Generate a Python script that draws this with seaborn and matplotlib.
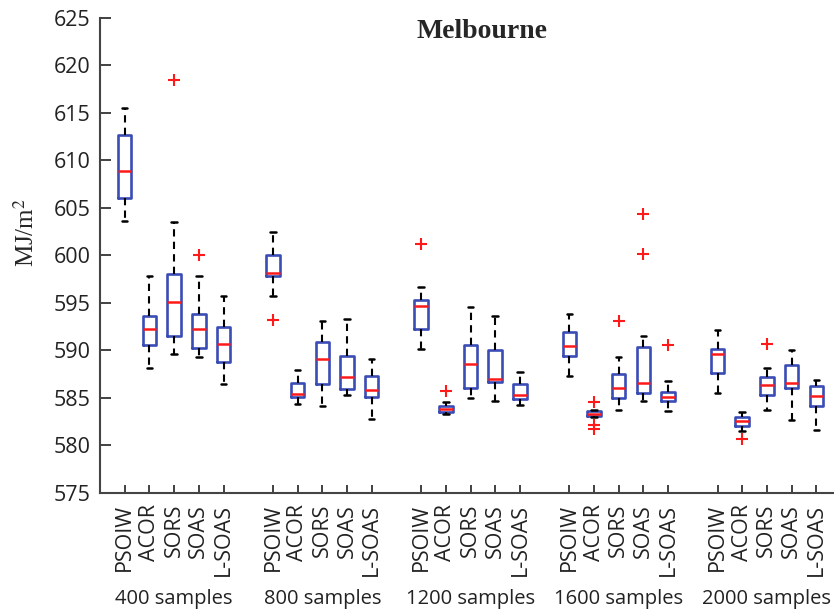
import matplotlib
matplotlib.use("Agg")
import matplotlib.pyplot as plt
import matplotlib.transforms as mtransforms
import seaborn as sns

# ---------------- data ----------------
groups = ["400 samples", "800 samples", "1200 samples", "1600 samples", "2000 samples"]
methods = ["PSOIW", "ACOR", "SORS", "SOAS", "L-SOAS"]

# per box, ordered group by group, method by method
whislo = [603.6, 588.2, 589.6, 589.35, 586.45,
          595.7, 584.4, 584.2, 585.35, 582.8,
          590.2, 583.3, 585.0, 584.7, 584.3,
          587.35, 582.95, 583.7, 584.65, 583.6,
          585.55, 581.55, 583.75, 582.7, 581.6]
q1 = [606.0, 590.55, 591.5, 590.3, 588.8,
      597.8, 585.15, 586.5, 585.9, 585.1,
      592.2, 583.55, 586.05, 586.7, 584.9,
      589.45, 583.05, 585.0, 585.5, 584.7,
      587.6, 582.1, 585.35, 586.0, 584.1]
med = [608.85, 592.2, 595.1, 592.2, 590.65,
       598.1, 585.4, 589.1, 587.2, 585.85,
       594.7, 583.85, 588.55, 587.0, 585.35,
       590.5, 583.3, 586.05, 586.6, 585.15,
       589.65, 582.55, 586.4, 586.55, 585.2]
q3 = [612.7, 593.6, 598.0, 593.8, 592.45,
      600.0, 586.6, 590.9, 589.4, 587.35,
      595.3, 584.2, 590.6, 590.0, 586.45,
      591.9, 583.6, 587.5, 590.35, 585.6,
      590.2, 582.95, 587.25, 588.5, 586.3]
whishi = [615.5, 597.8, 603.55, 597.8, 595.7,
          602.5, 587.95, 593.1, 593.35, 589.1,
          596.65, 584.6, 594.6, 593.6, 587.7,
          593.85, 583.75, 589.3, 591.55, 586.75,
          592.1, 583.55, 588.2, 590.0, 586.9]
fliers = [[], [], [618.45], [600.0], [],
          [593.2], [], [], [], [],
          [601.2], [585.7], [], [], [],
          [], [584.55, 582.2, 581.7], [593.1], [604.3, 600.15], [590.55],
          [], [580.7], [590.7], [], []]

# ---------------- style ----------------
sns.set_style("ticks")
plt.rcParams["font.family"] = ["Open Sans", "DejaVu Sans"]
plt.rcParams["mathtext.fontset"] = "stix"

fig = plt.figure(figsize=(8.34, 6.13), dpi=100)
ax = fig.add_axes([100 / 834, 1 - 493 / 613, 1 - 100 / 834, (493 - 17.7) / 613])

n_m = len(methods)
positions = [g * (n_m + 1) + m + 1 for g in range(len(groups)) for m in range(n_m)]
stats = []
for i in range(len(positions)):
    stats.append(dict(whislo=whislo[i], q1=q1[i], med=med[i], q3=q3[i],
                      whishi=whishi[i], fliers=fliers[i]))

box_col = "#3a4db5"
ax.bxp(stats, positions=positions, widths=0.55, showfliers=True,
       boxprops=dict(color=box_col, linewidth=1.9),
       medianprops=dict(color="#ff1a1a", linewidth=1.8),
       whiskerprops=dict(color="black", linewidth=1.5, linestyle=(0, (3.5, 2.5))),
       capprops=dict(color="black", linewidth=1.8),
       capwidths=0.22,
       flierprops=dict(marker="+", markeredgecolor="#ff1a1a", markersize=9,
                       markeredgewidth=1.5, linestyle="none"))

ax.set_xlim(0, (834 - 100) / 24.7)
ax.set_ylim(575, 625)
ax.set_yticks(range(575, 626, 5))
ax.set_xticks(positions)
ax.set_xticklabels(methods * len(groups), rotation=90, fontsize=15.5, color="#222222")
ax.tick_params(axis="y", labelsize=15.5, labelcolor="#222222")
ax.tick_params(axis="both", direction="in", color="#333333", width=1.3)
ax.tick_params(axis="y", length=8, pad=7)
ax.tick_params(axis="x", length=6, pad=8)

for side in ["top", "right"]:
    ax.spines[side].set_visible(False)
for side in ["left", "bottom"]:
    ax.spines[side].set_color("#444444")
    ax.spines[side].set_linewidth(1.5)

trans = mtransforms.blended_transform_factory(ax.transData, ax.transAxes)
for g, name in enumerate(groups):
    cx = g * (n_m + 1) + (n_m + 1) / 2
    ax.text(cx, (493 - 599) / (493 - 17.7), name, transform=trans,
            ha="center", va="center", fontsize=14.5, color="#222222")

fig.text(482 / 834, 1 - 38 / 613, "Melbourne", ha="center", va="baseline",
         fontsize=20, fontweight="bold", family=["Liberation Serif", "DejaVu Serif"])
fig.text(26 / 834, 1 - 232 / 613, "MJ/m$^2$", rotation=90, ha="center", va="center",
         fontsize=18, family=["Liberation Serif", "DejaVu Serif"])

fig.savefig("out.png", dpi=100)
